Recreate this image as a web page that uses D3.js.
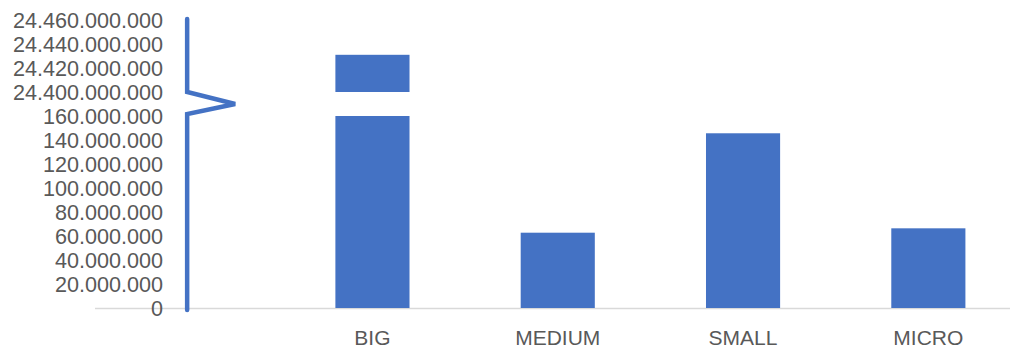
<!DOCTYPE html>
<html><head><meta charset="utf-8">
<script src="https://cdn.jsdelivr.net/npm/d3@7"></script>
<style>body{margin:0;background:#fff}svg{display:block}</style>
</head><body>
<script>
const categories = ["", "BIG", "MEDIUM", "SMALL", "MICRO"];
const values = [null, 24431000000, 62750000, 145600000, 66400000];
const lowerTicks = [0, 20e6, 40e6, 60e6, 80e6, 100e6, 120e6, 140e6, 160e6];
const upperTicks = [24400000000, 24420000000, 24440000000, 24460000000];
const lowerMax = 160e6;
const upperMin = 24400000000, upperMax = 24460000000;

const W = 1010, H = 349;
const svg = d3.select("body").append("svg").attr("width", W).attr("height", H);
const font = "'Liberation Sans', Arial, sans-serif";
const fmt = v => v === 0 ? "0" : d3.format(",")(v).replace(/,/g, ".");

const x = d3.scaleBand().domain(categories).range([94.5, 1021]).paddingInner(0.6).paddingOuter(0.3);
const yLow = d3.scaleLinear().domain([0, lowerMax]).range([308, 116]);
const yUp = d3.scaleLinear().domain([upperMin, upperMax]).range([92, 20]);

// x axis baseline
svg.append("line").attr("x1", 95).attr("x2", W).attr("y1", 308.5).attr("y2", 308.5)
  .attr("stroke", "#d9d9d9").attr("stroke-width", 1.5);

// bars
const color = "#4472C4";
categories.forEach((c, i) => {
  const v = values[i];
  if (v == null) return;
  if (v > lowerMax) {
    svg.append("rect").attr("x", x(c)).attr("width", x.bandwidth())
      .attr("y", yLow(lowerMax)).attr("height", yLow(0) - yLow(lowerMax)).attr("fill", color);
    svg.append("rect").attr("x", x(c)).attr("width", x.bandwidth())
      .attr("y", yUp(v)).attr("height", yUp(upperMin) - yUp(v)).attr("fill", color);
  } else {
    svg.append("rect").attr("x", x(c)).attr("width", x.bandwidth())
      .attr("y", yLow(v)).attr("height", yLow(0) - yLow(v)).attr("fill", color);
  }
});

// tick labels
const tickX = 163;
lowerTicks.forEach(t => {
  svg.append("text").attr("x", tickX).attr("y", yLow(t)).attr("dy", "0.36em")
    .attr("text-anchor", "end").attr("font-family", font).attr("font-size", 21.6)
    .attr("fill", "#595959").text(fmt(t));
});
upperTicks.forEach(t => {
  svg.append("text").attr("x", tickX).attr("y", yUp(t)).attr("dy", "0.36em")
    .attr("text-anchor", "end").attr("font-family", font).attr("font-size", 21.6)
    .attr("fill", "#595959").text(fmt(t));
});

// category labels
categories.forEach(c => {
  if (!c) return;
  svg.append("text").attr("x", x(c) + x.bandwidth() / 2).attr("y", 344.5)
    .attr("text-anchor", "middle").attr("font-family", font).attr("font-size", 21)
    .attr("fill", "#595959").text(c);
});

// broken axis line
const ax = x("") + x.bandwidth() / 2;
const path = d3.path();
path.moveTo(ax, yUp(upperMax) - 1);
path.lineTo(ax, yUp(upperMin));
path.lineTo(ax + 48, (yUp(upperMin) + yLow(lowerMax)) / 2);
path.lineTo(ax, yLow(lowerMax) - 2);
path.lineTo(ax, yLow(0) + 2);
svg.append("path").attr("d", path.toString()).attr("fill", "none")
  .attr("stroke", color).attr("stroke-width", 4.5).attr("stroke-linecap", "round")
  .attr("stroke-linejoin", "miter");
</script>
</body></html>
